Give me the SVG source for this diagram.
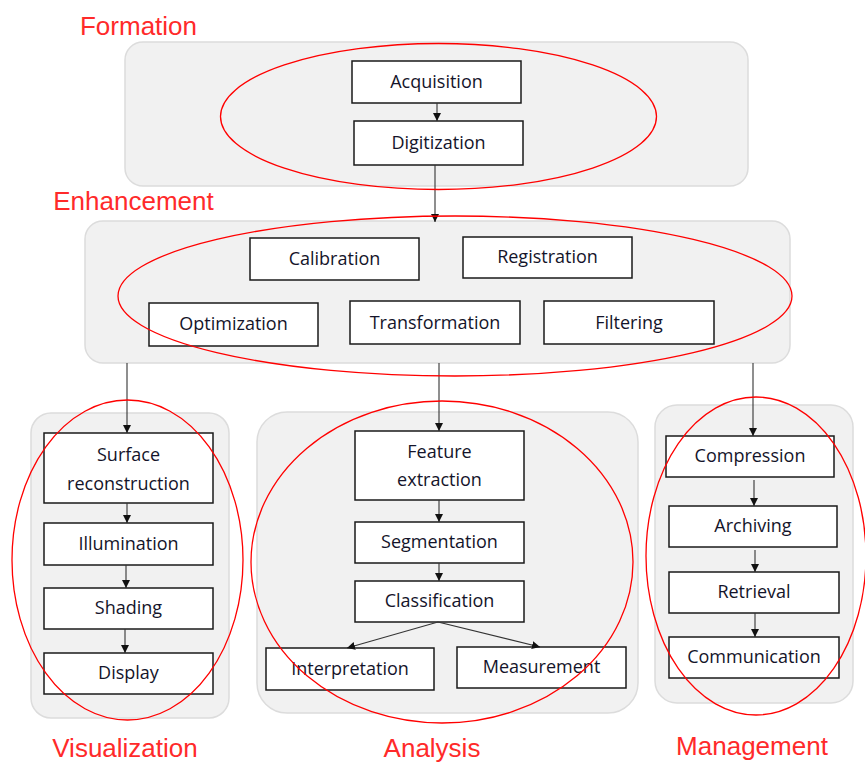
<svg xmlns="http://www.w3.org/2000/svg" width="865" height="765" viewBox="0 0 865 765">
<defs>
<marker id="ah" markerUnits="userSpaceOnUse" markerWidth="9" markerHeight="9" refX="8" refY="4" orient="auto">
<path d="M0,0 L8,4 L0,8 z" fill="#111"/>
</marker>
<style>
.panel{fill:#f1f1f1;stroke:#dcdcdc;stroke-width:1.5}
.box{fill:#fff;stroke:#1a1a1a;stroke-width:1.5}
.t{font-family:"Open Sans","Liberation Sans",sans-serif;font-size:18px;fill:#14142a;text-anchor:middle}
.lbl{font-family:"Liberation Sans","Open Sans",sans-serif;font-size:26px;fill:#ff2a2a;text-anchor:middle}
.ell{fill:none;stroke:#f00;stroke-width:1.3}
.con{fill:none;stroke:#333;stroke-width:1.1;marker-end:url(#ah)}
</style>
</defs>
<rect width="865" height="765" fill="#fff"/>

<g id="panels">
<g id="panel-formation"><rect class="panel" x="125" y="42" width="623" height="144" rx="18"/></g>
<g id="panel-enhancement"><rect class="panel" x="85" y="221" width="705" height="142" rx="18"/></g>
<g id="panel-visualization"><rect class="panel" x="31" y="413" width="198" height="305" rx="20"/></g>
<g id="panel-analysis"><rect class="panel" x="257" y="412" width="381" height="301" rx="30"/></g>
<g id="panel-management"><rect class="panel" x="655" y="405" width="198" height="298" rx="22"/></g>
</g>

<g id="acquisition"><rect class="box" x="352" y="61" width="169" height="42"/><text class="t" x="436.5" y="88">Acquisition</text></g>
<g id="digitization"><rect class="box" x="354" y="121" width="169" height="44"/><text class="t" x="438.5" y="149">Digitization</text></g>

<g id="calibration"><rect class="box" x="250" y="238" width="169" height="42"/><text class="t" x="334.5" y="265">Calibration</text></g>
<g id="registration"><rect class="box" x="463" y="237" width="169" height="41"/><text class="t" x="547.5" y="263">Registration</text></g>
<g id="optimization"><rect class="box" x="149" y="303" width="169" height="43"/><text class="t" x="233.5" y="330">Optimization</text></g>
<g id="transformation"><rect class="box" x="350" y="301" width="170" height="43"/><text class="t" x="435" y="329">Transformation</text></g>
<g id="filtering"><rect class="box" x="544" y="301" width="170" height="43"/><text class="t" x="629" y="329">Filtering</text></g>

<g id="surface-reconstruction"><rect class="box" x="44" y="433" width="169" height="70"/><text class="t" x="128.5" y="461">Surface</text><text class="t" x="128.5" y="490">reconstruction</text></g>
<g id="illumination"><rect class="box" x="44" y="523" width="169" height="42"/><text class="t" x="128.5" y="550">Illumination</text></g>
<g id="shading"><rect class="box" x="44" y="588" width="169" height="41"/><text class="t" x="128.5" y="614">Shading</text></g>
<g id="display"><rect class="box" x="44" y="653" width="169" height="41"/><text class="t" x="128.5" y="679">Display</text></g>

<g id="feature-extraction"><rect class="box" x="355" y="431" width="169" height="69"/><text class="t" x="439.5" y="458">Feature</text><text class="t" x="439.5" y="486">extraction</text></g>
<g id="segmentation"><rect class="box" x="355" y="522" width="169" height="41"/><text class="t" x="439.5" y="548">Segmentation</text></g>
<g id="classification"><rect class="box" x="355" y="581" width="169" height="41"/><text class="t" x="439.5" y="607">Classification</text></g>
<g id="interpretation"><rect class="box" x="266" y="648" width="168" height="42"/><text class="t" x="350" y="675">Interpretation</text></g>
<g id="measurement"><rect class="box" x="457" y="647" width="169" height="41"/><text class="t" x="541.5" y="673">Measurement</text></g>

<g id="compression"><rect class="box" x="666" y="436" width="168" height="41"/><text class="t" x="750" y="462">Compression</text></g>
<g id="archiving"><rect class="box" x="669" y="506" width="168" height="41"/><text class="t" x="753" y="532">Archiving</text></g>
<g id="retrieval"><rect class="box" x="669" y="572" width="170" height="41"/><text class="t" x="754" y="598">Retrieval</text></g>
<g id="communication"><rect class="box" x="669" y="637" width="170" height="41"/><text class="t" x="754" y="663">Communication</text></g>

<g id="connectors">
<path class="con" d="M437,103 L437,121"/>
<path class="con" d="M435,165 L435,222"/>
<path class="con" d="M127,363 L127,433"/>
<path class="con" d="M439,363 L439,431"/>
<path class="con" d="M753,363 L753,436"/>
<path class="con" d="M127,503 L127,523"/>
<path class="con" d="M126,565 L126,588"/>
<path class="con" d="M125,629 L125,653"/>
<path class="con" d="M439,500 L439,522"/>
<path class="con" d="M439,563 L439,581"/>
<path class="con" d="M438,622 L347,648"/>
<path class="con" d="M438,622 L540,647"/>
<path class="con" d="M754,480 L754,506"/>
<path class="con" d="M755,550 L755,572"/>
<path class="con" d="M755,613 L755,637"/>
</g>

<g id="group-outlines">
<ellipse class="ell" cx="438.5" cy="116.5" rx="218" ry="73"/>
<ellipse class="ell" cx="455" cy="296" rx="337" ry="80"/>
<ellipse class="ell" cx="127.5" cy="560" rx="115.5" ry="160"/>
<ellipse class="ell" cx="442" cy="562" rx="191" ry="161"/>
<ellipse class="ell" cx="756" cy="556" rx="110" ry="159"/>
</g>

<g id="labels">
<text class="lbl" x="138.5" y="35">Formation</text>
<text class="lbl" x="133.5" y="210">Enhancement</text>
<text class="lbl" x="125" y="757">Visualization</text>
<text class="lbl" x="432" y="757">Analysis</text>
<text class="lbl" x="752" y="755">Management</text>
</g>
</svg>
